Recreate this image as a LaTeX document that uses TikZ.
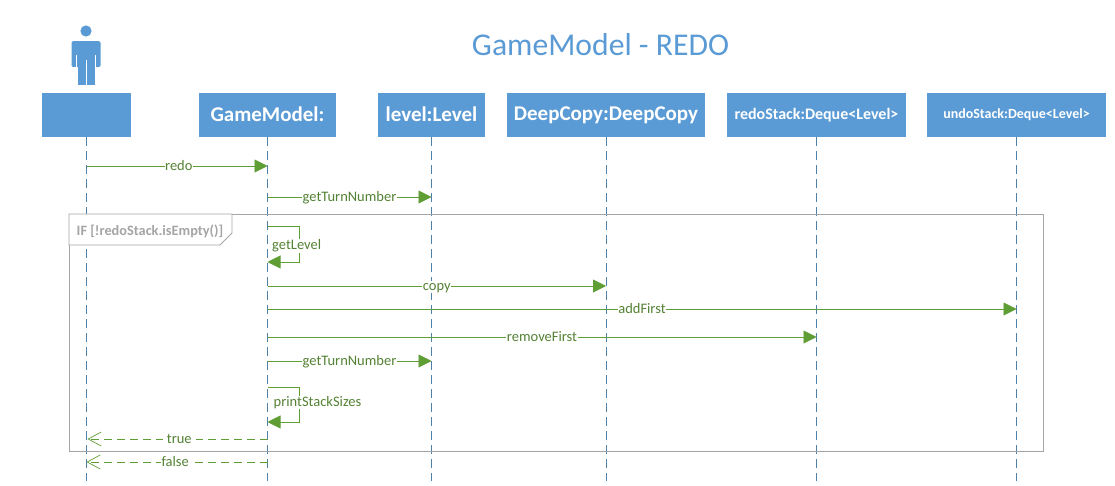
\documentclass[tikz,border=0pt]{standalone}
\usepackage{fontspec}
\setmainfont{Carlito}
\usetikzlibrary{arrows.meta}
\definecolor{hdr}{HTML}{5B9BD5}
\definecolor{life}{HTML}{4F81A8}
\definecolor{msg}{HTML}{5F9E35}
\definecolor{msgtxt}{HTML}{548235}
\definecolor{frm}{HTML}{A5A5A5}
\newcommand{\hup}[1]{\raisebox{1.5pt}{#1}}
\tikzset{
  hbox/.style={fill=hdr,draw=none,text=white,font=\bfseries\fontsize{#1}{#1}\selectfont,inner sep=0pt,minimum height=44pt},
  lifeline/.style={life,line width=0.8pt,dash pattern=on 9pt off 5pt},
  call/.style={msg,line width=0.9pt,-{Triangle[length=13pt,width=13pt,fill=msg]}},
  reply/.style={msg,line width=0.8pt,dash pattern=on 8pt off 5pt,-{Straight Barb[length=13pt,width=14pt,line width=0.7pt]}},
  lbl/.style={fill=white,inner xsep=0.5pt,inner ysep=0pt,text=msgtxt,text height=9pt,text depth=3pt,yshift=-1.3pt,font=\fontsize{14.5}{14.5}\selectfont},
  sidelbl/.style={fill=white,inner sep=0.5pt,text=msgtxt,font=\fontsize{14.5}{14.5}\selectfont,anchor=west}
}
\begin{document}
\begin{tikzpicture}[x=1pt,y=-1pt]
\useasboundingbox[fill=white] (0,0) rectangle (1115,485);
\node[text=hdr,font=\fontsize{31.7}{31.7}\selectfont] (title) at (600.5,44.5) {GameModel - REDO};
% actor figure
\fill[hdr] (86,31) circle (5.6);
\fill[hdr,rounded corners=1.5pt] (71.5,41) rectangle (100.5,67);
\fill[hdr] (77.5,60) rectangle (94.5,85);
\fill[white] (71,67) rectangle (77.5,70);
\fill[white] (76.2,55) rectangle (77.4,67.5);
\fill[white] (94.6,55) rectangle (95.8,67.5);
\fill[white] (85.5,60) rectangle (86.5,85);
% header boxes
\node[hbox=21,minimum width=89pt] (actor) at (86.5,115) {};
\node[hbox=21,minimum width=137pt] (gm) at (267.5,115) {\hup{GameModel:}};
\node[hbox=21,minimum width=107pt] (level) at (431.5,115) {\hup{level:Level}};
\node[hbox=21,minimum width=198pt] (deep) at (606,115) {\hup{DeepCopy:DeepCopy}};
\node[hbox=16,minimum width=179pt] (redo) at (816.5,115) {\hup{redoStack:Deque<Level>}};
\node[hbox=14,minimum width=179pt] (undo) at (1016.5,115) {\hup{undoStack:Deque<Level>}};
% lifelines
\coordinate (bot) at (0,481);
\foreach \n in {actor,gm,level,deep,redo,undo}
  \draw[lifeline] (\n.south) -- (\n.south |- bot);
% frame
\draw[frm,line width=0.9pt] (69,214) rectangle (1043,451);
\draw[frm,line width=0.9pt,fill=white] (69,214) -- (232,214) -- (232,233) -- (220,245) -- (69,245) -- cycle;
\node[text=frm,font=\bfseries\fontsize{14.3}{14.3}\selectfont,anchor=west,inner sep=0pt] (guard) at (76.5,231) {IF [!redoStack.isEmpty()]};
% levels
\coordinate (y1) at (0,166);
\coordinate (y2) at (0,197);
\coordinate (y3) at (0,226);
\coordinate (y3b) at (0,262);
\coordinate (y4) at (0,286);
\coordinate (y5) at (0,309);
\coordinate (y6) at (0,337);
\coordinate (y7) at (0,361);
\coordinate (y8) at (0,387);
\coordinate (y8b) at (0,422);
\coordinate (y9) at (0,439);
\coordinate (y10) at (0,462);
\coordinate (loop) at (299.5,0);
% messages
\draw[call] (actor |- y1) -- node[lbl,pos=0.51] {redo} (gm |- y1);
\draw[call] (gm |- y2) -- node[lbl,pos=0.5] {getTurnNumber} (level |- y2);
\draw[msg,line width=0.8pt] (gm |- y3) -- (loop |- y3) -- (loop |- y3b);
\draw[call] (loop |- y3b) -- (gm |- y3b);
\node[sidelbl] (l3) at (271.5,246) {getLevel};
\draw[call] (gm |- y4) -- node[lbl,pos=0.5] {copy} (deep |- y4);
\draw[call] (gm |- y5) -- node[lbl,pos=0.5] {addFirst} (undo |- y5);
\draw[call] (gm |- y6) -- node[lbl,pos=0.5] {removeFirst} (redo |- y6);
\draw[call] (gm |- y7) -- node[lbl,pos=0.5] {getTurnNumber} (level |- y7);
\draw[msg,line width=0.8pt] (gm |- y8) -- (loop |- y8) -- (loop |- y8b);
\draw[call] (loop |- y8b) -- (gm |- y8b);
\node[sidelbl] (l8) at (273,402.5) {printStackSizes};
\draw[reply] (gm |- y9) -- node[lbl,pos=0.49,inner xsep=4pt] {true} ([xshift=1pt]actor |- y9);
\draw[reply] (gm |- y10) -- node[lbl,pos=0.51,inner xsep=1pt] {false} (actor |- y10);
\end{tikzpicture}
\end{document}
